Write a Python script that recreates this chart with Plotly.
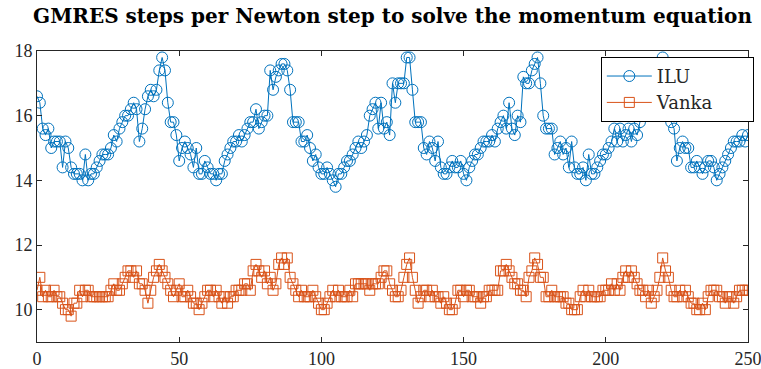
import plotly.graph_objects as go

ilu = [16.6,16.4,15.6,15.4,15.6,15.0,15.2,15.2,15.2,14.4,15.2,15.0,14.4,14.2,14.2,14.2,14.0,14.8,14.0,14.2,
       14.2,14.4,14.6,14.8,14.8,14.8,15.0,15.4,15.2,15.6,15.8,16.0,16.0,16.2,16.4,16.2,15.2,15.6,16.2,16.6,
       16.8,16.6,16.8,17.4,17.8,17.4,16.4,15.8,15.8,15.4,14.6,15.0,15.2,15.0,14.8,14.4,15.0,14.2,14.2,14.6,
       14.4,14.2,14.2,14.0,14.2,14.2,14.6,14.8,15.0,15.2,15.2,15.4,15.2,15.4,15.6,15.8,15.8,16.2,15.6,15.8,
       16.0,16.0,17.4,16.8,17.2,17.4,17.6,17.6,17.4,16.8,15.8,15.8,15.8,15.2,15.2,15.4,15.0,14.6,14.8,14.4,
       14.2,14.2,14.4,14.2,14.0,13.8,14.2,14.2,14.4,14.6,14.6,14.8,15.0,15.2,15.0,15.2,15.4,16.0,16.2,16.4,
       15.6,16.4,15.6,15.8,15.4,17.0,16.4,17.0,17.0,17.0,17.8,17.8,16.8,15.8,15.8,15.8,15.0,14.8,15.2,15.0,
       14.6,15.2,14.4,14.2,14.2,14.4,14.6,14.4,14.4,14.6,14.2,14.0,14.4,14.6,14.8,14.8,15.0,15.2,15.2,15.2,
       15.4,15.2,15.6,15.8,16.0,15.6,16.4,15.6,15.4,16.0,15.8,17.2,17.0,17.0,17.4,17.6,17.8,17.0,16.0,15.6,
       15.6,15.6,14.8,15.0,15.2,14.8,15.0,14.4,15.2,14.4,14.2,14.2,14.4,14.0,14.8,14.2,14.2,14.4,14.6,14.8,
       14.8,15.0,15.2,15.6,15.2,15.6,15.2,15.4,15.6,15.2,15.6,15.4,15.8,16.4,16.8,17.0,17.2,17.0,17.4,17.6,
       17.8,17.0,16.0,15.8,15.6,14.6,15.0,15.2,15.0,15.0,14.4,14.4,14.6,14.4,14.2,14.4,14.6,14.6,14.4,14.0,
       14.2,14.4,14.6,14.8,15.0,15.2,15.2,15.2,15.4,15.2,15.4]

vanka = [10.6,11.0,10.4,10.6,10.4,10.4,10.6,10.4,10.4,10.2,10.0,10.0,9.8,10.2,10.2,10.6,10.4,10.6,10.6,10.4,
         10.4,10.4,10.4,10.4,10.4,10.4,10.6,10.8,10.6,10.6,10.8,11.0,11.2,11.2,11.0,11.2,10.8,10.8,10.6,10.2,
         10.6,11.0,11.2,11.4,11.2,11.0,10.8,10.6,10.4,10.6,10.8,10.4,10.4,10.6,10.4,10.2,10.2,10.0,10.2,10.4,
         10.6,10.6,10.4,10.6,10.4,10.2,10.4,10.2,10.4,10.4,10.6,10.6,10.6,10.8,10.8,10.6,11.2,11.4,11.2,11.0,
         11.2,10.8,11.0,10.6,10.8,11.4,11.6,11.4,11.6,11.0,10.8,10.6,10.4,10.6,10.4,10.4,10.4,10.6,10.4,10.2,
         10.0,10.0,10.2,10.4,10.6,10.4,10.6,10.4,10.4,10.4,10.6,10.4,10.8,10.8,10.8,10.8,10.8,10.6,10.8,10.8,
         10.8,11.0,11.2,11.2,10.8,10.6,10.4,10.4,10.6,11.0,11.4,11.6,11.0,10.6,10.2,10.4,10.6,10.6,10.4,10.6,
         10.4,10.4,10.2,10.4,10.2,10.0,10.0,10.2,10.6,10.6,10.4,10.6,10.6,10.4,10.4,10.4,10.2,10.4,10.4,10.6,
         10.6,10.6,10.6,11.2,11.2,11.4,11.2,11.0,10.8,10.8,10.6,10.6,10.4,11.0,11.2,11.6,11.4,11.0,11.0,10.4,
         10.4,10.6,10.4,10.4,10.4,10.4,10.2,10.2,10.0,10.0,10.0,10.4,10.6,10.4,10.6,10.4,10.4,10.4,10.4,10.6,
         10.6,10.6,10.8,10.6,10.8,10.6,11.0,11.2,11.0,11.2,11.0,10.8,10.6,10.6,10.4,10.6,10.2,10.4,10.6,11.0,
         11.6,11.2,11.0,10.6,10.4,10.4,10.6,10.4,10.6,10.4,10.2,10.2,10.0,10.0,10.2,10.0,10.4,10.6,10.6,10.6,
         10.4,10.4,10.2,10.4,10.4,10.2,10.4,10.6,10.6,10.6,10.6]

steps = list(range(len(ilu)))
x_ticks = [0, 50, 100, 150, 200, 250]
y_ticks = [10, 12, 14, 16, 18]
series_names = ["ILU", "Vanka"]

pad = "\u00a0" * 6

fig = go.Figure()
fig.add_trace(go.Scatter(
    x=steps, y=ilu, name=series_names[0], mode="lines+markers",
    line=dict(color="#0072BD", width=1),
    marker=dict(symbol="circle-open", size=11, color="#0072BD", line=dict(width=1)),
))
fig.add_trace(go.Scatter(
    x=list(range(len(vanka))), y=vanka, name=series_names[1] + pad, mode="lines+markers",
    line=dict(color="#D95319", width=1),
    marker=dict(symbol="square-open", size=10, color="#D95319", line=dict(width=1)),
))

axis_common = dict(
    showline=True, linecolor="#262626", linewidth=1, mirror="ticks",
    ticks="inside", ticklen=5, tickcolor="#262626", showgrid=False, zeroline=False,
    automargin=False, ticklabeloverflow="allow",
    tickfont=dict(family="Liberation Serif", size=18, color="#262626"),
)
fig.update_layout(
    width=761, height=369,
    margin=dict(l=37, r=13, t=51, b=27, autoexpand=False),
    paper_bgcolor="white", plot_bgcolor="white",
    title=dict(text="<b>GMRES steps per Newton step to solve the momentum equation</b>",
               x=0.5, xanchor="center", xref="paper", y=0.975, yanchor="top", automargin=False,
               font=dict(family="DejaVu Serif", size=20, color="black")),
    xaxis=dict(range=[0, 250], tickvals=x_ticks, **axis_common),
    yaxis=dict(range=[9, 18], tickvals=y_ticks, **axis_common),
    legend=dict(x=0.793, xanchor="left", y=0.98, yanchor="top",
                bgcolor="white", bordercolor="black", borderwidth=1,
                font=dict(family="DejaVu Serif", size=18, color="#262626"),
                itemwidth=45),
    showlegend=True,
)

fig.write_html("out.html", config={"displayModeBar": False},
               post_script="document.body.style.margin='0';document.body.style.overflow='hidden';")
